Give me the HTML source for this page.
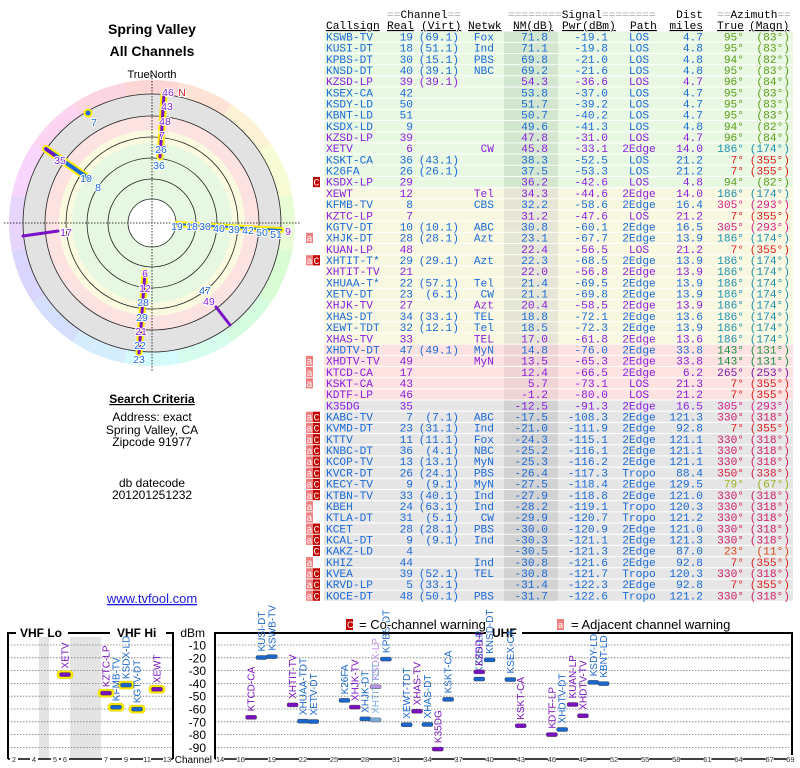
<!DOCTYPE html>
<html><head><meta charset="utf-8"><style>
html,body{margin:0;padding:0;background:#fff;}
svg{display:block;}
.mono{font-family:"Liberation Mono","DejaVu Sans Mono",monospace;font-size:11.2px;}
.sans{font-family:"Liberation Sans","DejaVu Sans",sans-serif;}
</style></head><body>
<svg id="root" width="800" height="768" viewBox="0 0 800 768" xmlns="http://www.w3.org/2000/svg">
<g class="sans">
<text x="152" y="34" text-anchor="middle" font-size="14" font-weight="bold">Spring Valley</text>
<text x="152" y="56" text-anchor="middle" font-size="14" font-weight="bold">All Channels</text>
<text x="152" y="78" text-anchor="middle" font-size="11">TrueNorth</text>
</g>
<g id="polar"></g>
<g class="sans" font-size="12" text-anchor="middle">
<text x="152" y="403" font-weight="bold" text-decoration="underline">Search Criteria</text>
<text x="152" y="421">Address: exact</text>
<text x="152" y="434">Spring Valley, CA</text>
<text x="152" y="446">Zipcode 91977</text>
<text x="152" y="487">db datecode</text>
<text x="152" y="499">201201251232</text>
<text x="152" y="603" font-size="13" fill="#1a1ae0" text-decoration="underline">www.tvfool.com</text>
</g>
<g class="mono">
<text x="387" y="18"><tspan fill="#aaa">==</tspan>Channel<tspan fill="#aaa">==</tspan></text>
<text x="508" y="18"><tspan fill="#aaa">========</tspan>Signal<tspan fill="#aaa">========</tspan></text>
<text x="703" y="18" text-anchor="end">Dist</text>
<text x="717" y="18"><tspan fill="#aaa">==</tspan>Azimuth<tspan fill="#aaa">==</tspan></text>
<g text-decoration="underline">
<text x="326" y="29">Callsign</text>
<text x="387" y="29">Real</text>
<text x="421" y="29">(Virt)</text>
<text x="468" y="29">Netwk</text>
<text x="513" y="29">NM(dB)</text>
<text x="562" y="29">Pwr(dBm)</text>
<text x="630" y="29">Path</text>
<text x="703" y="29" text-anchor="end">miles</text>
<text x="717" y="29">True</text>
<text x="749" y="29">(Magn)</text>
</g>
</g>
<g id="table" class="mono"></g>
<g id="chart"></g>
</svg>
<script>
// ---- table data ----
const calls=["KSWB-TV","KUSI-DT","KPBS-DT","KNSD-DT","KZSD-LP","KSEX-CA","KSDY-LD","KBNT-LD","KSDX-LD","KZSD-LP","XETV","KSKT-CA","K26FA","KSDX-LP","XEWT","KFMB-TV","KZTC-LP","KGTV-DT","XHJK-DT","KUAN-LP","XHTIT-T*","XHTIT-TV","XHUAA-T*","XETV-DT","XHJK-TV","XHAS-DT","XEWT-TDT","XHAS-TV","XHDTV-DT","XHDTV-TV","KTCD-CA","KSKT-CA","KDTF-LP","K35DG","KABC-TV","KVMD-DT","KTTV","KNBC-DT","KCOP-TV","KVCR-DT","KECY-TV","KTBN-TV","KBEH","KTLA-DT","KCET","KCAL-DT","KAKZ-LD","KHIZ","KVEA","KRVD-LP","KOCE-DT"];
const realCh=[19,18,30,40,39,42,50,51,9,39,6,36,26,29,12,8,7,10,28,48,29,21,22,23,27,34,32,33,47,49,17,43,46,35,7,23,11,36,13,26,9,33,24,31,28,9,4,44,39,5,48];
const virtCh=["(69.1)","(51.1)","(15.1)","(39.1)","(39.1)","","","","","","","(43.1)","(26.1)","","","","","(10.1)","(28.1)","","(29.1)","","(57.1)","(6.1)","","(33.1)","(12.1)","","(49.1)","","","","","","(7.1)","(31.1)","(11.1)","(4.1)","(13.1)","(24.1)","(9.1)","(40.1)","(63.1)","(5.1)","(28.1)","(9.1)","","","(52.1)","(33.1)","(50.1)"];
const netwk=["Fox","Ind","PBS","NBC","","","","","","","CW","","","","Tel","CBS","","ABC","Azt","","Azt","","Tel","CW","Azt","TEL","Tel","TEL","MyN","MyN","","","","","ABC","Ind","Fox","NBC","MyN","PBS","MyN","Ind","Ind","CW","PBS","Ind","","Ind","TEL","","PBS"];
const nmDb=[71.8,71.1,69.8,69.2,54.3,53.8,51.7,50.7,49.6,47.8,45.8,38.3,37.5,36.2,34.3,32.2,31.2,30.8,23.1,22.4,22.3,22.0,21.4,21.1,20.4,18.8,18.5,17.0,14.8,13.5,12.4,5.7,-1.2,-12.5,-17.5,-21.0,-24.3,-25.2,-25.3,-26.4,-27.5,-27.9,-28.2,-29.9,-30.0,-30.3,-30.5,-30.8,-30.8,-31.4,-31.7];
const pwrDbm=[-19.1,-19.8,-21.0,-21.6,-36.6,-37.0,-39.2,-40.2,-41.3,-31.0,-33.1,-52.5,-53.3,-42.6,-44.6,-58.6,-47.6,-60.1,-67.7,-56.5,-68.5,-56.8,-69.5,-69.8,-58.5,-72.1,-72.3,-61.8,-76.0,-65.3,-66.5,-73.1,-80.0,-91.3,-108.3,-111.9,-115.1,-116.1,-116.2,-117.3,-118.4,-118.8,-119.1,-120.7,-120.9,-121.1,-121.3,-121.6,-121.7,-122.3,-122.6];
const paths=["LOS","LOS","LOS","LOS","LOS","LOS","LOS","LOS","LOS","LOS","2Edge","LOS","LOS","LOS","2Edge","2Edge","LOS","2Edge","2Edge","LOS","2Edge","2Edge","2Edge","2Edge","2Edge","2Edge","2Edge","2Edge","2Edge","2Edge","2Edge","LOS","LOS","2Edge","2Edge","2Edge","2Edge","2Edge","2Edge","Tropo","2Edge","2Edge","Tropo","Tropo","2Edge","2Edge","2Edge","2Edge","Tropo","2Edge","Tropo"];
const distMi=["4.7","4.8","4.8","4.8","4.7","4.7","4.7","4.7","4.8","4.7","14.0","21.2","21.2","4.8","14.0","16.4","21.2","16.5","13.9","21.2","13.9","13.9","13.9","13.9","13.9","13.6","13.9","13.6","33.8","33.8","6.2","21.3","21.2","16.5","121.3","92.8","121.1","121.1","121.1","88.4","129.5","121.0","120.3","121.2","121.0","121.3","87.0","92.8","120.3","92.8","121.2"];
const azTrue=[95,95,94,95,96,95,95,95,94,96,186,7,7,94,186,305,7,305,186,7,186,186,186,186,186,186,186,186,143,143,265,7,7,305,330,7,330,330,330,350,79,330,330,330,330,330,23,7,330,7,330];
const azMagn=[83,83,82,83,84,83,83,83,82,84,174,355,355,82,174,293,355,293,174,355,174,174,174,174,174,174,174,174,131,131,253,355,355,293,318,355,318,318,318,338,67,318,318,318,318,318,11,355,318,355,318];
const purpleRows=[4,9,10,13,14,16,19,21,24,27,29,30,31,32,33];
const flags=["","","","","","","","","","","","","","C","","","","","a","","aC","","","","","","","","","a","a","a","","","aC","aC","aC","aC","aC","aC","aC","aC","a","a","aC","aC","C","a","aC","aC","aC"];
const azColor={95:"#5c9c1c",94:"#5c9c1c",96:"#5c9c1c",186:"#1e8fb0",7:"#e02020",305:"#d0208c",143:"#1a9040",265:"#7a1aa0",330:"#d02068",350:"#d82040",79:"#96b41e",23:"#d84a14"};
function bandOf(i){return i<14?0:(i<28?1:(i<33?2:3));}
const bandFill=["#e8f8e2","#f8f8e0","#fde2e2","#e6e6e6"];
const nmFill=["#d2e6d0","#e6e6d6","#eed4d4","#d2d2d2"];

const NS="http://www.w3.org/2000/svg";
function mk(tag,attrs,parent,txt){const e=document.createElementNS(NS,tag);for(const k in attrs)e.setAttribute(k,attrs[k]);if(txt!==undefined)e.textContent=txt;parent.appendChild(e);return e;}
const table=document.getElementById('table');
const RH=11.18;
for(let i=0;i<calls.length;i++){
  const top=31.6+i*RH, base=top+8.8;
  const row=mk('g',{},table);
  
  
  const b=bandOf(i);
  mk('rect',{x:324,y:top,width:469,height:RH-1,fill:bandFill[b]},row);
  mk('rect',{x:504,y:top,width:54,height:RH-1,fill:nmFill[b]},row);
  const col=purpleRows.includes(i)?"#8a1ee0":"#1a6ad8";
  const fl=flags[i];
  if(fl.includes('a')){mk('rect',{x:306,y:top,width:7,height:RH-1,fill:"#f08080"},row);mk('text',{x:306.5,y:base,fill:"#fff","font-size":"10"},row,"a");}
  if(fl.includes('C')){mk('rect',{x:313,y:top,width:7,height:RH-1,fill:"#c00000"},row);mk('text',{x:313.5,y:base,fill:"#fff","font-size":"10"},row,"C");}
  const cs=mk('text',{x:326,y:base,fill:col},row,calls[i]);
  
  
  mk('text',{x:413,y:base,fill:col,"text-anchor":"end"},row,String(realCh[i]));
  mk('text',{x:459,y:base,fill:col,"text-anchor":"end"},row,virtCh[i]);
  mk('text',{x:494,y:base,fill:col,"text-anchor":"end"},row,netwk[i]);
  mk('text',{x:548,y:base,fill:col,"text-anchor":"end"},row,nmDb[i].toFixed(1));
  mk('text',{x:608,y:base,fill:col,"text-anchor":"end"},row,pwrDbm[i].toFixed(1));
  mk('text',{x:639,y:base,fill:col,"text-anchor":"middle"},row,paths[i]);
  mk('text',{x:703,y:base,fill:col,"text-anchor":"end"},row,distMi[i]);
  const ac=azColor[azTrue[i]]||"#333";
  mk('text',{x:744,y:base,fill:ac,"text-anchor":"end"},row,azTrue[i]+"°");
  mk('text',{x:790,y:base,fill:ac,"text-anchor":"end"},row,"("+azMagn[i]+"°)");
}

// ---- polar plot ----
const polar=document.getElementById('polar');
const CX=152,CY=223;
function pt(b,r){const a=b*Math.PI/180;return [CX+r*Math.sin(a),CY-r*Math.cos(a)];}
for(let s=0;s<16;s++){
  const b0=s*22.5-11.25,b1=b0+22.5;const p0=pt(b0,143),p1=pt(b1,143);
  const hue=(s*22.5)%360;
  const sec=mk('path',{d:`M${CX},${CY}L${p0[0]},${p0[1]}A143,143 0 0 1 ${p1[0]},${p1[1]}Z`,fill:`hsl(${hue},85%,91%)`},polar);
  
  
}
mk('circle',{cx:CX,cy:CY,r:129,fill:"#e2e2e2"},polar);
mk('circle',{cx:CX,cy:CY,r:107,fill:"#fde2e2"},polar);
mk('circle',{cx:CX,cy:CY,r:93,fill:"#fafae0"},polar);
mk('circle',{cx:CX,cy:CY,r:80,fill:"#e6f8e2"},polar);
[129,107,86,65,44].forEach(r=>{const c=mk('circle',{cx:CX,cy:CY,r:r,fill:"none",stroke:"#222","stroke-width":"0.8"},polar);});
mk('circle',{cx:CX,cy:CY,r:24,fill:"#fff",stroke:"#222","stroke-width":"0.8"},polar);
mk('line',{x1:CX,y1:CY-148,x2:CX,y2:CY+148,stroke:"#000","stroke-dasharray":"1.5,1.5","stroke-width":"0.8"},polar);
mk('line',{x1:CX-148,y1:CY,x2:CX+148,y2:CY,stroke:"#000","stroke-dasharray":"1.5,1.5","stroke-width":"0.8"},polar);
function seg(x1,y1,x2,y2,col,w,hl){if(hl)mk('line',{x1,y1,x2,y2,stroke:"#ffee00","stroke-width":w+4,"stroke-linecap":"round"},polar);mk('line',{x1,y1,x2,y2,stroke:col,"stroke-width":w,"stroke-linecap":"round"},polar);}
seg(176,224,281,230,"#1a6ad8",2,true);
seg(164,95,160,157,"#7a10c8",3,true);
seg(145,272,139,353,"#7a10c8",3,true);
seg(46,149,88,178,"#1a6ad8",4,true);
seg(46,149,54,155,"#7a10c8",3,false);
seg(88,113,88,113,"#1a6ad8",5,true);
seg(23,236,58,231,"#7a10c8",3,false);
seg(216,307,230,325,"#7a10c8",3,false);
const pl=[["46",168,96,"#8a1ee0"],["N",182,96,"#d02020"],["43",167,110,"#8a1ee0"],["48",165,125,"#8a1ee0"],["7",162,139,"#8a1ee0"],["26",161,153,"#1a6ad8"],["36",159,169,"#1a6ad8"],["7",94,126,"#1a6ad8"],["35",60,164,"#8a1ee0"],["10",86,182,"#1a6ad8"],["8",98,191,"#1a6ad8"],["17",66,236,"#8a1ee0"],["19",177,230,"#1a6ad8"],["18",192,230,"#1a6ad8"],["30",205,230,"#1a6ad8"],["40",219,232,"#1a6ad8"],["39",234,233,"#1a6ad8"],["42",248,234,"#1a6ad8"],["50",262,236,"#1a6ad8"],["51",276,238,"#1a6ad8"],["9",288,235,"#8a1ee0"],["6",145,277,"#8a1ee0"],["12",145,292,"#8a1ee0"],["28",143,306,"#1a6ad8"],["29",142,321,"#1a6ad8"],["21",141,335,"#8a1ee0"],["22",140,349,"#1a6ad8"],["23",139,363,"#1a6ad8"],["47",205,294,"#1a6ad8"],["49",209,305,"#8a1ee0"]];
pl.forEach(p=>{const t=mk('text',{x:p[1],y:p[2],fill:p[3],"text-anchor":"middle","font-size":"10.5","font-family":"Liberation Sans, sans-serif",stroke:"#fff","stroke-width":"2","paint-order":"stroke"},polar,p[0]);});

// ---- bottom chart data ----
const chartCalls=["KSWB-TV","KUSI-DT","KPBS-DT","KNSD-DT","KZSD-LP","KSEX-CA","KSDY-LD","KBNT-LD","KSDX-LD","KZSD-LP","XETV","KSKT-CA","K26FA","KSDX-LP","XEWT","KFMB-TV","KZTC-LP","KGTV-DT","XHJK-DT","KUAN-LP","XHTIT-TDT","XHTIT-TV","XHUAA-TDT","XETV-DT","XHJK-TV","XHAS-DT","XEWT-TDT","XHAS-TV","XHDTV-DT","XHDTV-TV","KTCD-CA","KSKT-CA","KDTF-LP","K35DG"];
const chartChans=[19,18,30,40,39,42,50,51,9,39,6,36,26,29,12,8,7,10,28,48,29,21,22,23,27,34,32,33,47,49,17,43,46,35];
const chartPwr=[-19.1,-19.8,-21.0,-21.6,-36.6,-37.0,-39.2,-40.2,-41.3,-31.0,-33.1,-52.5,-53.3,-42.6,-44.6,-58.6,-47.6,-60.1,-67.7,-56.5,-68.5,-56.8,-69.5,-69.8,-58.5,-72.1,-72.3,-61.8,-76.0,-65.3,-66.5,-73.1,-80.0,-91.3];
const chartKind=["b","b","b","b","b","b","b","b","b","p","p","b","b","fp","p","b","p","b","b","p","fb","p","b","b","p","b","b","p","b","p","p","p","p","p"];
const yTicks=[-10,-20,-30,-40,-50,-60,-70,-80,-90];
const vhfTicks=["2","4","5","6","7","9","11","13"];
const uhfTicks=["14","16","19","22","25","28","31","34","37","40","43","46","49","52","55","58","61","64","67","69"];

const chart=document.getElementById('chart');
const vhfX={2:14,3:24,4:34,5:55,6:65,7:106,8:116,9:126,10:137,11:147,12:157,13:167};
function xCh(c){return c<=13?vhfX[c]:220+(c-14)*10.37;}
function yP(p){return 645+(-10-p)*1.28;}
const sansF="Liberation Sans, DejaVu Sans, sans-serif";
mk('rect',{x:39,y:637,width:10,height:122,fill:"#e4e4e4"},chart);
mk('rect',{x:70,y:637,width:31,height:122,fill:"#e4e4e4"},chart);
yTicks.forEach(t=>{const y=yP(t);
 const g1=mk('line',{x1:8,y1:y,x2:172,y2:y,stroke:"#777","stroke-dasharray":"1.5,1.5","stroke-width":"0.8"},chart);
 mk('line',{x1:215,y1:y,x2:791,y2:y,stroke:"#777","stroke-dasharray":"1.5,1.5","stroke-width":"0.8"},chart);
 const tl=mk('text',{x:206,y:y+4.5,"text-anchor":"end","font-size":"12","font-family":sansF},chart,String(t));
});
mk('path',{d:"M8,759V633H16 M68,633H110 M166,633H173V759",fill:"none",stroke:"#000","stroke-width":"2"},chart);
mk('path',{d:"M215,759V633H486 M522,633H792V759",fill:"none",stroke:"#000","stroke-width":"2"},chart);
mk('line',{x1:8,y1:759,x2:173,y2:759,stroke:"#000","stroke-width":"1.5"},chart);
mk('line',{x1:215,y1:759,x2:792,y2:759,stroke:"#000","stroke-width":"1.5"},chart);
const t1=mk('text',{x:20,y:637,"font-size":"12","font-weight":"bold","font-family":sansF},chart,"VHF Lo");
const t2=mk('text',{x:117,y:637,"font-size":"12","font-weight":"bold","font-family":sansF},chart,"VHF Hi");
const t3=mk('text',{x:492,y:637,"font-size":"12","font-weight":"bold","font-family":sansF},chart,"UHF");
const t4=mk('text',{x:205,y:637,"text-anchor":"end","font-size":"12","font-family":sansF},chart,"dBm");
const t5=mk('text',{x:212,y:763,"text-anchor":"end","font-size":"10","font-family":sansF},chart,"Channel");
function xtick(lbl,x){mk('rect',{x:x-4,y:755,width:8,height:8,fill:"#fff"},chart);const e=mk('text',{x:x,y:762,"text-anchor":"middle","font-size":"7.5","font-family":sansF,fill:"#333"},chart,lbl);}
vhfTicks.forEach(l=>xtick(l,xCh(+l)));
uhfTicks.forEach(l=>xtick(l,xCh(+l)));
const kindCol={b:"#1a66cc",p:"#7a10c0",fb:"#80aee0",fp:"#c090e6"};
for(let i=0;i<chartCalls.length;i++){
  const x=xCh(chartChans[i]),y=yP(chartPwr[i]),c=kindCol[chartKind[i]];
  if(chartChans[i]<=13){mk('rect',{x:x-8,y:y-4,width:16,height:8,rx:3,fill:"#ffee00",stroke:"#d8c800","stroke-width":"0.5"},chart);}
  const bar=mk('rect',{x:x-5.5,y:y-2,width:11,height:4,rx:1.5,fill:c,stroke:"#333","stroke-width":"0.4"},chart);
  
  
  const lbl=mk('text',{x:x+3.5,y:y-6,transform:`rotate(-90 ${x+3.5} ${y-6})`,"font-size":"10","font-family":sansF,fill:c},chart,chartCalls[i]);
  
  
}
const lg=mk('g',{"font-family":sansF,"font-size":"13"},chart);


mk('rect',{x:346,y:619,width:7,height:11,fill:"#c00000"},lg);
mk('text',{x:347,y:628,"font-size":"9",fill:"#fff"},lg,"C");
const l1=mk('text',{x:359,y:629,fill:"#000",stroke:"#fff","stroke-width":"2","paint-order":"stroke"},lg,"= Co-channel warning");


mk('rect',{x:557,y:619,width:7,height:11,fill:"#f08080"},lg);
mk('text',{x:558,y:628,"font-size":"9",fill:"#fff"},lg,"a");
const l2=mk('text',{x:571,y:629,fill:"#000"},lg,"= Adjacent channel warning");


</script>
</body></html>
